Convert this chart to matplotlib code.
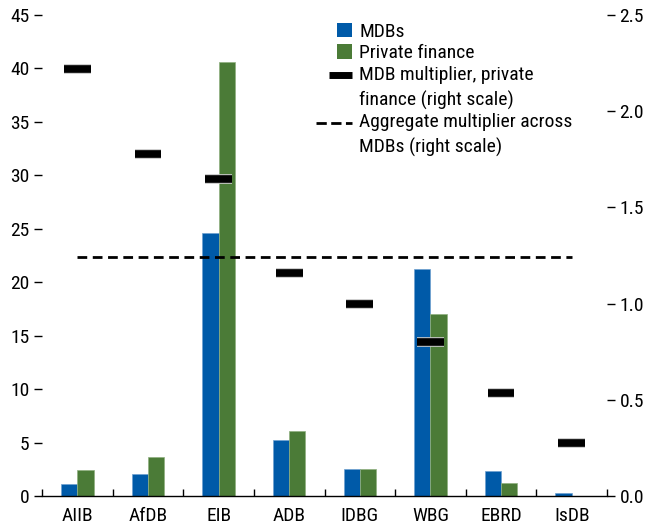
import matplotlib
matplotlib.use('Agg')
import matplotlib.pyplot as plt
import matplotlib.patheffects as pe
from matplotlib import font_manager
from matplotlib.lines import Line2D
from matplotlib.patches import Patch, Rectangle
from matplotlib.legend_handler import HandlerBase
import numpy as np

# pick a narrow sans if one is installed
installed = set(f.name for f in font_manager.fontManager.ttflist)
candidates = ['Liberation Sans Narrow', 'Arial Narrow', 'Roboto Condensed', 'Archivo Narrow',
              'PT Sans Narrow', 'IBM Plex Sans Condensed', 'Sofia Sans Semi Condensed']
narrow = [c for c in candidates if c in installed]
plt.rcParams['font.family'] = narrow[:1] + ['Liberation Sans', 'DejaVu Sans']
plt.rcParams['font.size'] = 14 if narrow else 12.5

banks = ['AIIB', 'AfDB', 'EIB', 'ADB', 'IDBG', 'WBG', 'EBRD', 'IsDB']
mdbs = [1.1, 2.05, 24.6, 5.25, 2.5, 21.2, 2.3, 0.25]
private = [2.45, 3.65, 40.6, 6.1, 2.5, 17.0, 1.2, 0.02]
multiplier = [2.22, 1.78, 1.65, 1.16, 1.00, 0.80, 0.535, 0.275]
aggregate = 1.24

blue = '#005aa8'
green = '#4b7b37'


class RightHandle(HandlerBase):
    # draws the legend key flush to the right end of the handle box,
    # lifted to the first text line for two-line labels
    def __init__(self, kind, length, up=0.0):
        super().__init__()
        self.kind = kind
        self.length = length
        self.up = up

    def create_artists(self, legend, orig, xdescent, ydescent, width, height, fontsize, trans):
        x1 = width - xdescent
        if self.kind == 'patch':
            s = height * 1.05
            r = Rectangle((x1 - s, -ydescent + (height - s) / 2), s, s,
                          facecolor=orig.get_facecolor(), edgecolor='none', transform=trans)
            return [r]
        y = -ydescent + height / 2 + self.up
        ln = Line2D([x1 - self.length, x1], [y, y], color=orig.get_color(),
                    lw=orig.get_linewidth(), ls=orig.get_linestyle(),
                    solid_capstyle='butt', dash_capstyle='butt', transform=trans)
        return [ln]


fig = plt.figure(figsize=(6.45, 5.27), dpi=100)
ax = fig.add_axes([42 / 645, 31 / 527, 565 / 645, 481 / 527])
ax2 = ax.twinx()

x = np.arange(len(banks))
w = 0.23
ax.bar(x - w / 2, mdbs, w, color=blue, edgecolor='#6fa0d0', linewidth=0.5, zorder=2)
ax.bar(x + w / 2, private, w, color=green, edgecolor='#8fb080', linewidth=0.5, zorder=2)

ax.set_xlim(-0.5, len(banks) - 0.5)
ax.set_ylim(0, 45)
ax.set_yticks(range(0, 46, 5))
ax.set_xticks(x)
ax.set_xticklabels(banks)
ax.set_xticks(np.arange(-0.5, len(banks), 1), minor=True)
ax.tick_params(axis='x', which='major', length=0, pad=8)
ax.tick_params(axis='x', which='minor', direction='in', length=5, width=1)
ax.tick_params(axis='y', length=6, width=1, pad=3, direction='out')

ax2.set_ylim(0, 2.5)
ax2.set_yticks(np.arange(0, 2.51, 0.5))
ax2.set_yticklabels(['%.1f' % v for v in np.arange(0, 2.51, 0.5)])
ax2.tick_params(axis='y', length=6, width=1, pad=3, direction='out')

for a in (ax, ax2):
    for s in ['left', 'right', 'top']:
        a.spines[s].set_visible(False)
ax.spines['bottom'].set_linewidth(1)
ax2.spines['bottom'].set_visible(False)

ax2.plot([x[0], x[-1]], [aggregate, aggregate], color='black', lw=2, ls=(0, (3.5, 2)), zorder=3)
ax2.hlines(multiplier, x - 0.19, x + 0.19, color='black', lw=5.5, zorder=4,
           path_effects=[pe.Stroke(linewidth=7, foreground='#c8c8c8'), pe.Normal()])

h_mdb = Patch(facecolor=blue, edgecolor='none')
h_priv = Patch(facecolor=green, edgecolor='none')
h_mult = Line2D([0], [0], color='black', lw=5)
h_agg = Line2D([0], [0], color='black', lw=2, ls=(0, (3.5, 2)))
labels = ['MDBs', 'Private finance', 'MDB multiplier, private\nfinance (right scale)',
          'Aggregate multiplier across\nMDBs (right scale)']
leg = ax2.legend([h_mdb, h_priv, h_mult, h_agg], labels, loc='upper left',
                 bbox_to_anchor=(0.462, 1.008), frameon=False, handlelength=1.9,
                 handletextpad=0.4, labelspacing=0.18, borderaxespad=0.2,
                 handler_map={h_mdb: RightHandle('patch', 0), h_priv: RightHandle('patch', 0),
                              h_mult: RightHandle('line', 16, 9.0),
                              h_agg: RightHandle('line', 26, 9.0)})
for t in leg.get_texts():
    t.set_linespacing(1.45)

fig.savefig('out.png', dpi=100)
